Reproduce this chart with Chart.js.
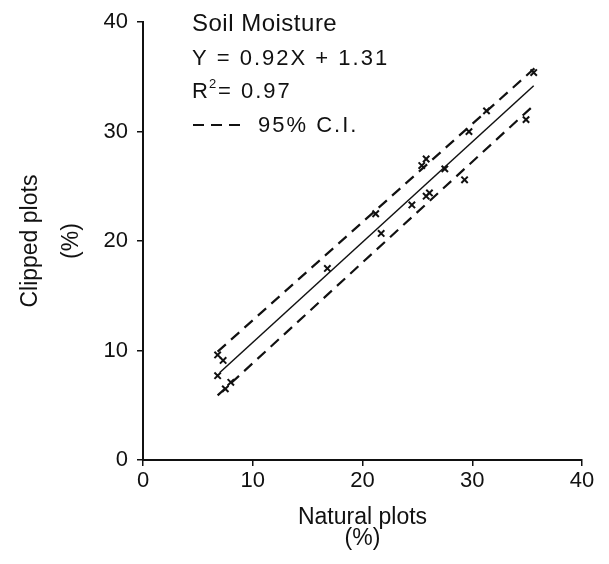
<!DOCTYPE html>
<html lang="en">
<head>
<meta charset="UTF-8">
<title>Soil Moisture</title>
<script src="https://cdn.jsdelivr.net/npm/chart.js"></script>
<style>
  html, body { margin: 0; padding: 0; background: #fff; }
  #wrap { width: 609px; height: 564px; }
</style>
</head>
<body>
<div id="wrap"><canvas id="grafico" width="609" height="564"></canvas></div>

<script>
// data
const naturalPlots = [6.8, 7.3, 6.8, 7.5, 8.0, 16.8, 21.2, 21.7, 24.5, 25.4, 25.8, 25.8, 26.1, 27.5, 29.3, 29.7, 31.3, 34.9, 35.6];
const clippedPlots = [9.6, 9.1, 7.7, 6.5, 7.1, 17.5, 22.5, 20.7, 23.3, 26.9, 27.5, 24.1, 24.4, 26.6, 25.6, 30.0, 31.9, 31.1, 35.4];

// fitted line and confidence band ends (x, y)
const fitX = [7.0, 35.6];
const fitY = [8.0, 34.2];
const upperX = [6.8, 35.8];
const upperY = [9.9, 35.9];
const lowerX = [6.8, 35.6];
const lowerY = [5.9, 32.4];

const axisTicks = [0, 10, 20, 30, 40];

const legendLines = ['Soil Moisture', 'Y = 0.92X + 1.31', '0.97', '95% C.I.'];

function toPoints(xs, ys) {
  return xs.map((x, i) => ({ x: x, y: ys[i] }));
}

const FONT = "'Liberation Sans', Arial, sans-serif";

// text block in the upper left
const notePlugin = {
  id: 'note',
  afterDraw(chart) {
    const ctx = chart.ctx;
    ctx.save();
    ctx.fillStyle = '#111';
    ctx.textBaseline = 'alphabetic';
    ctx.textAlign = 'left';

    ctx.font = '24px ' + FONT;
    ctx.letterSpacing = '0.5px';
    ctx.fillText(legendLines[0], 192, 31);

    ctx.font = '22px ' + FONT;
    ctx.letterSpacing = '2px';
    ctx.fillText(legendLines[1], 192, 65);

    // R squared
    ctx.fillText('R', 192, 98);
    ctx.font = '13px ' + FONT;
    ctx.letterSpacing = '0px';
    ctx.fillText('2', 209, 88);
    ctx.font = '22px ' + FONT;
    ctx.letterSpacing = '2px';
    ctx.fillText('= ' + legendLines[2], 218, 98);

    // dashed sample
    ctx.strokeStyle = '#111';
    ctx.lineWidth = 2;
    ctx.setLineDash([11, 7]);
    ctx.beginPath();
    ctx.moveTo(193, 125);
    ctx.lineTo(245, 125);
    ctx.stroke();
    ctx.setLineDash([]);
    ctx.fillText(legendLines[3], 258, 132);
    ctx.restore();
  }
};

const ctxGrafico = document.getElementById('grafico').getContext('2d');

const grafico = new Chart(ctxGrafico, {
  type: 'scatter',
  data: {
    datasets: [
      {
        label: 'plots',
        data: toPoints(naturalPlots, clippedPlots),
        pointStyle: 'crossRot',
        pointRadius: 4.5,
        borderColor: '#111',
        borderWidth: 2,
        showLine: false
      },
      {
        label: 'fit',
        data: toPoints(fitX, fitY),
        showLine: true,
        pointRadius: 0,
        borderColor: '#111',
        borderWidth: 1.5
      },
      {
        label: 'upper',
        data: toPoints(upperX, upperY),
        showLine: true,
        pointRadius: 0,
        borderColor: '#111',
        borderWidth: 2.2,
        borderDash: [11, 7]
      },
      {
        label: 'lower',
        data: toPoints(lowerX, lowerY),
        showLine: true,
        pointRadius: 0,
        borderColor: '#111',
        borderWidth: 2.2,
        borderDash: [11, 7]
      }
    ]
  },
  options: {
    responsive: false,
    animation: false,
    devicePixelRatio: 1,
    layout: { padding: { left: 0, right: 27, top: 22, bottom: 0 } },
    plugins: {
      legend: { display: false },
      tooltip: { enabled: false }
    },
    scales: {
      x: {
        type: 'linear',
        min: 0,
        max: 40,
        afterBuildTicks: (scale) => { scale.ticks = axisTicks.map(v => ({ value: v })); },
        afterFit: (scale) => { scale.height = 104; },
        border: { color: '#111', width: 2 },
        grid: { drawOnChartArea: false, color: '#111', lineWidth: 1.5, tickLength: 6 },
        ticks: { color: '#111', padding: 2, font: { family: FONT, size: 22 } },
        title: {
          display: true,
          text: ['Natural plots', '(%)'],
          color: '#111',
          font: { family: FONT, size: 23, lineHeight: 0.9 },
          padding: { top: 0, bottom: 15 }
        }
      },
      y: {
        type: 'linear',
        min: 0,
        max: 40,
        afterBuildTicks: (scale) => { scale.ticks = axisTicks.map(v => ({ value: v })); },
        afterFit: (scale) => { scale.width = 143; },
        border: { color: '#111', width: 2 },
        grid: { drawOnChartArea: false, color: '#111', lineWidth: 1.5, tickLength: 6 },
        ticks: { color: '#111', padding: 9, font: { family: FONT, size: 22 } },
        title: {
          display: true,
          text: ['Clipped plots', '(%)'],
          color: '#111',
          font: { family: FONT, size: 23, lineHeight: 1.75 },
          padding: { top: 11, bottom: 0 }
        }
      }
    }
  },
  plugins: [notePlugin]
});
</script>
</body>
</html>
